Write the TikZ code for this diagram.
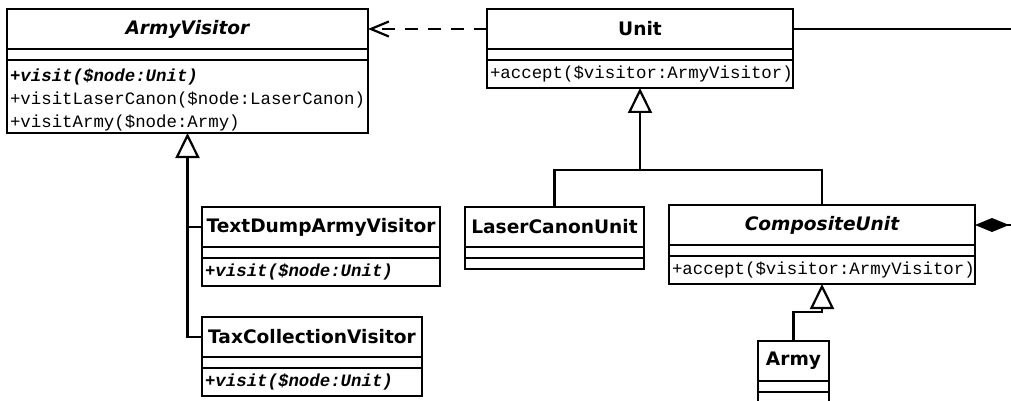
\documentclass[tikz,border=0pt]{standalone}
\usepackage{fontspec}
\usepackage{tikz}
\usetikzlibrary{positioning,arrows.meta}
\newfontfamily\namefamily{DejaVu Sans}
\newfontfamily\opsfamily{Liberation Mono}
\tikzset{>=Latex}

\begin{document}
\begin{tikzpicture}[
x=1pt, y=1pt,
uml/.style={draw=black, line width=2.6pt, inner sep=0pt, outer sep=0pt},
classname/.style={uml, anchor=north west, minimum width=#1, minimum height=40pt, font=\namefamily\bfseries\fontsize{18.6}{20}\selectfont},
classgap/.style={uml, minimum width=#1, minimum height=11pt},
classops/.style={uml, text width=#1, inner xsep=3pt, minimum height=28pt, align=left, font=\opsfamily\fontsize{17.4}{23}\selectfont},
inherit/.style={line width=2.2pt, -{Triangle[open, length=25pt, width=24pt]}},
depend/.style={line width=2.2pt, dash pattern=on 13pt off 10pt, -{Straight Barb[length=18pt, width=15pt]}},
assoc/.style={line width=2.2pt},
compose/.style={line width=2.2pt, {Diamond[length=34pt, width=14pt]}-},
]
\useasboundingbox (0,0) rectangle (1011,-401);
%Visitors
\node[classname=361pt] (avname) at (7,-9) {\itshape ArmyVisitor};
\node[classgap=361pt, below=0pt of avname] (avgap) {};
\node[classops=355pt, minimum height=73pt, below=0pt of avgap] (avops) {\rule{0pt}{19pt}\textbf{\textit{+visit(\$node:Unit)}}\\+visitLaserCanon(\$node:LaserCanon)\\+visitArmy(\$node:Army)};
\node[classname=238pt] (textname) at (202,-207) {TextDumpArmyVisitor};
\node[classgap=238pt, below=0pt of textname] (textgap) {};
\node[classops=232pt, below=0pt of textgap] (textops) {\textbf{\textit{+visit(\$node:Unit)}}};
\node[classname=220pt] (taxname) at (202,-317) {TaxCollectionVisitor};
\node[classgap=220pt, below=0pt of taxname] (taxgap) {};
\node[classops=214pt, below=0pt of taxgap] (taxops) {\textbf{\textit{+visit(\$node:Unit)}}};
%Units
\node[classname=306pt] (unitname) at (487,-9) {Unit};
\node[classgap=306pt, below=0pt of unitname] (unitgap) {};
\node[classops=300pt, below=0pt of unitgap] (unitops) {+accept(\$visitor:ArmyVisitor)};
\node[classname=179pt] (lasername) at (465,-207) {LaserCanonUnit};
\node[classgap=179pt, below=0pt of lasername] (lasergap) {};
\node[classgap=179pt, below=0pt of lasergap] (laserops) {};
\node[classname=306pt] (compname) at (669,-205) {\itshape CompositeUnit};
\node[classgap=306pt, below=0pt of compname] (compgap) {};
\node[classops=300pt, below=0pt of compgap] (compops) {+accept(\$visitor:ArmyVisitor)};
\node[classname=71pt] (armyname) at (758,-341) {Army};
\node[classgap=71pt, below=0pt of armyname] (armygap) {};
\node[classgap=71pt, minimum height=30pt, below=0pt of armygap] (armyops) {};
%Connectors
\coordinate (unitright) at (1030,-29);
\coordinate (compright) at (1030,-225);
\coordinate (unitjoin) at (unitops.south |- 0,-170);
\coordinate (armyjoin) at (compops.south |- 0,-312);
\draw[depend] (unitname.west) -- (avname.east);
\draw[assoc] (unitname.east) -- (unitright);
\draw[compose] (compname.east) -- (compright);
\draw[inherit] (unitjoin) -- (unitops.south);
\draw[assoc] (lasername.north) |- (unitjoin) -| (compname.north);
\draw[inherit] (armyname.north) |- (armyjoin) -- (compops.south);
\draw[assoc] (taxname.west) -| (textname.west -| avops.south);
\draw[inherit] (textname.west) -| (avops.south);
\end{tikzpicture}
\end{document}
